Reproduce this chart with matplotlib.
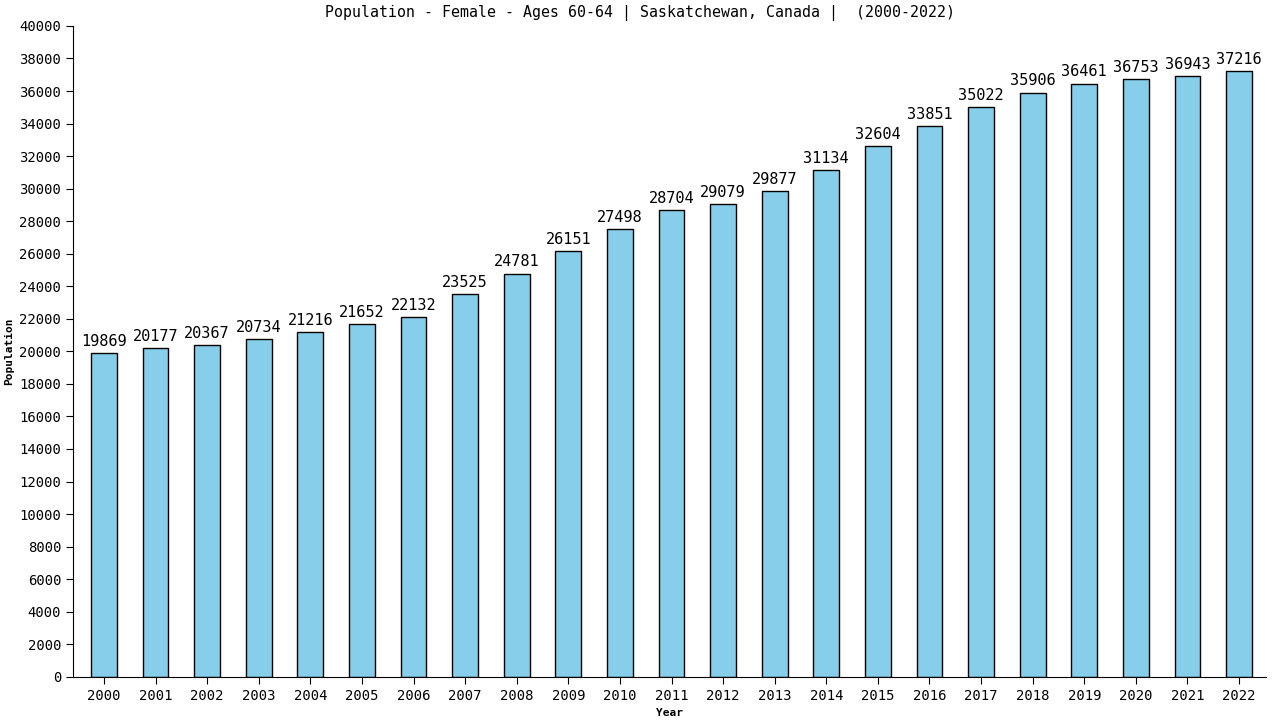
import matplotlib
matplotlib.use("Agg")
import matplotlib.pyplot as plt

# data
years = [str(y) for y in range(2000, 2023)]
population = [19869, 20177, 20367, 20734, 21216, 21652, 22132, 23525, 24781, 26151,
              27498, 28704, 29079, 29877, 31134, 32604, 33851, 35022, 35906, 36461,
              36753, 36943, 37216]
y_ticks = list(range(0, 40001, 2000))

plt.rcParams['font.family'] = 'DejaVu Sans Mono'

fig = plt.figure(figsize=(12.8, 7.2), dpi=100)
ax = fig.add_axes([0.057, 0.06, 0.932, 0.904])

x = range(len(years))
bars = ax.bar(x, population, width=0.5, color='#87CEEB', edgecolor='black', linewidth=1)

for xi, v in zip(x, population):
    ax.text(xi, v + 250, str(v), ha='center', va='bottom', fontsize=11)

ax.set_xticks(list(x))
ax.set_xticklabels(years, fontsize=10)
ax.set_yticks(y_ticks)
ax.set_yticklabels([str(t) for t in y_ticks], fontsize=10)
ax.set_xlim(-0.6, 22.52)
ax.set_ylim(0, 40000)

ax.spines['top'].set_visible(False)
ax.spines['right'].set_visible(False)
ax.tick_params(axis='both', direction='out', length=5)

ax.set_xlabel('Year', fontsize=8, fontweight='bold', labelpad=4)
ax.set_ylabel('Population', fontsize=8, fontweight='bold', labelpad=4)
fig.text(0.5, 0.982, 'Population - Female - Ages 60-64 | Saskatchewan, Canada |  (2000-2022)',
         fontsize=10.7, ha='center', va='center')

fig.savefig('out.png', dpi=100)
